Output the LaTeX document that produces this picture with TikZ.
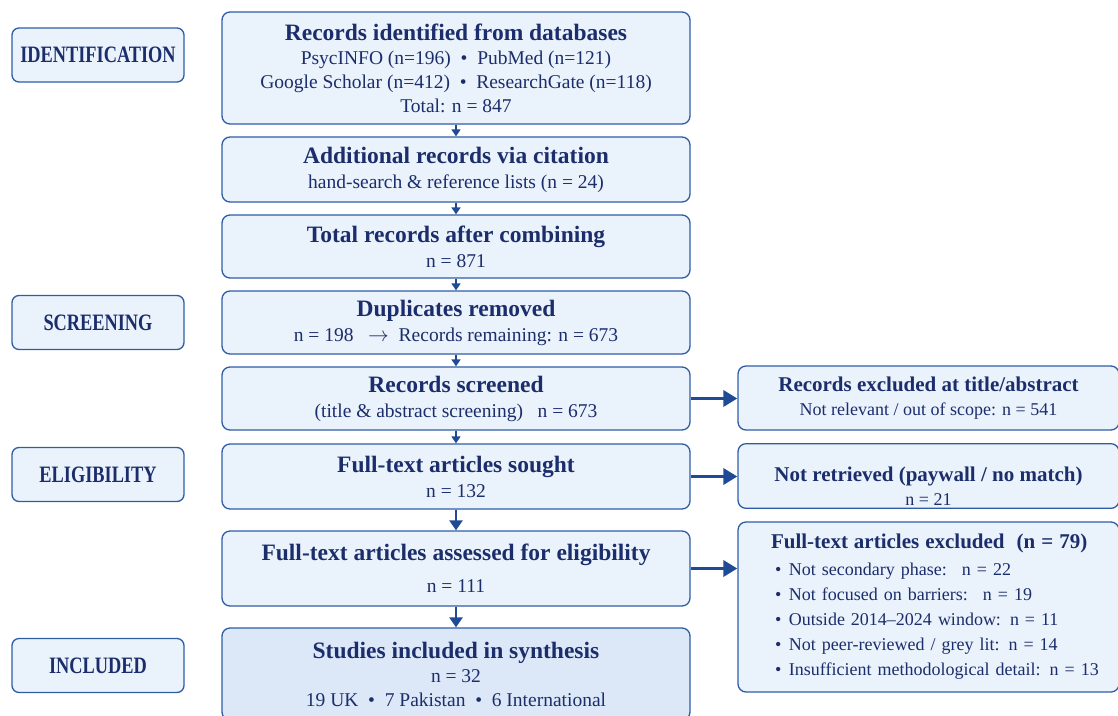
\documentclass[tikz,border=0pt]{standalone}
\usepackage{fontspec}
\setmainfont{Liberation Serif}
\newfontfamily\condserif[FakeStretch=0.78]{Liberation Serif}
\usetikzlibrary{arrows.meta}
\definecolor{boxline}{HTML}{2E5DA6}
\definecolor{boxfill}{HTML}{EAF2FC}
\definecolor{boxfilldark}{HTML}{DCE8F7}
\definecolor{navy}{HTML}{1B2D6B}
\definecolor{arrowblue}{HTML}{1F4B96}
\newcommand{\ttl}[1]{{\fontsize{23.5}{26}\selectfont\bfseries #1}}
\newcommand{\sttl}[1]{{\fontsize{21}{24}\selectfont\bfseries #1}}
\newcommand{\itm}[1]{\hspace*{19pt}\makebox[14pt][l]{\textbullet}#1}
\tikzset{
  stagebox/.style={draw=boxline, fill=boxfill, line width=1.3pt, rounded corners=7pt,
    minimum width=172pt, minimum height=54pt, text=navy,
    font=\condserif\fontsize{23.5}{26}\selectfont\bfseries},
  flowbox/.style={draw=boxline, fill=boxfill, line width=1.3pt, rounded corners=8pt,
    minimum width=468pt, text=navy, align=center,
    font=\fontsize{19.5}{24}\selectfont},
  sidebox/.style={draw=boxline, fill=boxfill, line width=1.3pt, rounded corners=8pt,
    minimum width=381pt, text=navy, align=center,
    font=\fontsize{18}{24}\selectfont},
  down/.style={arrowblue, line width=1.6pt, -{Triangle[length=7pt,width=9pt]}},
  bigdown/.style={arrowblue, line width=2.6pt, -{Triangle[length=10pt,width=13pt]}},
  side/.style={arrowblue, line width=3.5pt, -{Triangle[length=14pt,width=16pt]}}
}
\begin{document}
\begin{tikzpicture}[x=1pt,y=-1pt]
  \useasboundingbox (0,0) rectangle (1118,715);
  % stages
  \node[stagebox] (ident) at (98,55) {IDENTIFICATION};
  \node[stagebox] (screen) at (98,322.5) {SCREENING};
  \node[stagebox] (elig) at (98,474.5) {ELIGIBILITY};
  \node[stagebox] (incl) at (98,665.5) {INCLUDED};
  % main column
  \node[flowbox, minimum height=112pt] (dbase) at (456,68)
    {\ttl{Records identified from databases}\\[0pt]
     PsycINFO (n=196) \ \textbullet\ \ PubMed (n=121)\\
     Google Scholar (n=412) \ \textbullet\ \ ResearchGate (n=118)\\
     Total: n = 847};
  \node[flowbox, minimum height=65pt] (cite) at (456,169.5)
    {\ttl{Additional records via citation}\\[1pt]
     hand-search \& reference lists (n = 24)};
  \node[flowbox, minimum height=63pt] (combo) at (456,246.5)
    {\ttl{Total records after combining}\\[1pt] n = 871};
  \node[flowbox, minimum height=63pt] (dupl) at (456,322.5)
    {\ttl{Duplicates removed}\\[1pt]
     n = 198 \ \ $\rightarrow$\ \ Records remaining: n = 673};
  \node[flowbox, minimum height=63pt] (screened) at (456,398.5)
    {\ttl{Records screened}\\[1pt]
     (title \& abstract screening) \ \ n = 673};
  \node[flowbox, minimum height=65pt] (sought) at (456,476.5)
    {\ttl{Full-text articles sought}\\[1pt] n = 132};
  \node[flowbox, minimum height=75pt] (assess) at (456,568.5)
    {\ttl{Full-text articles assessed for eligibility}\\[8pt] n = 111};
  \node[flowbox, fill=boxfilldark, minimum height=92pt] (synth) at (456,674)
    {\ttl{Studies included in synthesis}\\[0pt] n = 32\\
     19 UK \ \textbullet\ \ 7 Pakistan \ \textbullet\ \ 6 International};
  % exclusions
  \node[sidebox, minimum height=64pt] (exabs) at (928.5,398)
    {\sttl{Records excluded at title/abstract}\\[0pt]
     Not relevant / out of scope: n = 541};
  \node[sidebox, minimum height=62pt] (notret) at (928.5,476)
    {\sttl{\rule{0pt}{34pt}Not retrieved (paywall / no match)}\\[0pt]
     n = 21};
  \node[sidebox, minimum height=170pt, align=left, text width=345pt] (exfull) at (928.5,607)
    {\hspace*{15pt}\sttl{Full-text articles excluded \ (n = 79)}\\[3pt]
     \itm{Not secondary phase: \ n = 22}\\[1pt]
     \itm{Not focused on barriers: \ n = 19}\\[1pt]
     \itm{Outside 2014--2024 window: n = 11}\\[1pt]
     \itm{Not peer-reviewed / grey lit: n = 14}\\[1pt]
     \itm{Insufficient methodological detail: n = 13}};
  % arrows
  \draw[down] (dbase) -- (cite);
  \draw[down] (cite) -- (combo);
  \draw[down] (combo) -- (dupl);
  \draw[down] (dupl) -- (screened);
  \draw[down] (screened) -- (sought);
  \draw[bigdown] (sought) -- (assess);
  \draw[bigdown] (assess) -- (synth);
  \draw[side] (screened.east) -- (screened.east -| exabs.west);
  \draw[side] (sought.east) -- (sought.east -| notret.west);
  \draw[side] (assess.east) -- (assess.east -| exfull.west);
\end{tikzpicture}
\end{document}
